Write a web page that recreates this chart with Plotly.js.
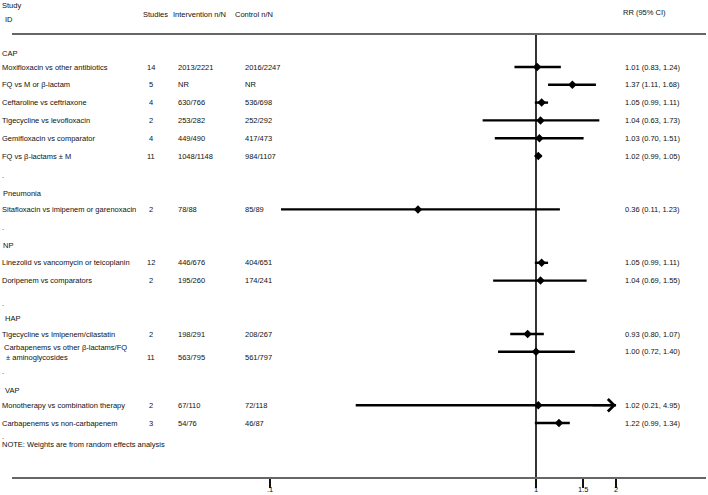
<!DOCTYPE html>
<html>
<head>
<meta charset="utf-8">
<script src="https://cdn.plot.ly/plotly-3.0.1.min.js"></script>
<style>html,body{margin:0;padding:0;background:#fff;}#chart{width:708px;height:495px;}</style>
</head>
<body>
<div id="chart"></div>
<script>
// ---- data ----
const studyLabels = [
  "Moxifloxacin vs other antibiotics",
  "FQ vs M or β-lactam",
  "Ceftaroline vs ceftriaxone",
  "Tigecycline vs levofloxacin",
  "Gemifloxacin vs comparator",
  "FQ vs β-lactams ± M",
  "Sitafloxacin vs imipenem or garenoxacin",
  "Linezolid vs vancomycin or teicoplanin",
  "Doripenem vs comparators",
  "Tigecycline vs Imipenem/cilastatin",
  "Carbapenems vs other β-lactams/FQ<br> ± aminoglycosides",
  "Monotherapy vs combination therapy",
  "Carbapenems vs non-carbapenem"
];
const studyCounts = [14, 5, 4, 2, 4, 11, 2, 12, 2, 2, 11, 2, 3];
const interventionNN = ["2013/2221","NR","630/766","253/282","449/490","1048/1148","78/88","446/676","195/260","198/291","563/795","67/110","54/76"];
const controlNN = ["2016/2247","NR","536/698","252/292","417/473","984/1107","85/89","404/651","174/241","208/267","561/797","72/118","46/87"];
const rrEst = [1.01, 1.37, 1.05, 1.04, 1.03, 1.02, 0.36, 1.05, 1.04, 0.93, 1.00, 1.02, 1.22];
const rrLow = [0.83, 1.11, 0.99, 0.63, 0.70, 0.99, 0.11, 0.99, 0.69, 0.80, 0.72, 0.21, 0.99];
const rrHigh = [1.24, 1.68, 1.11, 1.73, 1.51, 1.05, 1.23, 1.11, 1.55, 1.07, 1.40, 4.95, 1.34];
const groupNames = ["CAP", "Pneumonia", "NP", "HAP", "VAP"];
const tickValues = [0.1, 1, 1.5, 2];
const tickLabels = [".1", "1", "1.5", "2"];
const noteText = "NOTE: Weights are from random effects analysis";

// ---- layout (row slots) ----
const studyRows = [0, 1, 2, 3, 4, 5, 8, 11, 12, 15, 16, 19, 20];
const groupRows = [-0.75, 7.1, 10.0, 14.15, 18.15];
const dotRows = [6.1, 9.0, 13.3, 17.1, 20.75];
const noteRow = 21.2;

const ML = 12, MR = 2, MT = 35, MB = 18, W = 708, H = 495;
const PW = W - ML - MR, PH = H - MT - MB;
const px = p => (p - ML) / PW;            // pixel x -> paper x
const py = p => (H - MB - p) / PH;        // pixel y -> paper y
const yTop = -1.798, yBot = 23.034;
const FONT = "Liberation Sans, Arial, Helvetica, sans-serif";
const FS = 7.5;
const TXT = "#111";
const ciMax = tickValues[tickValues.length - 1];
const ciMin = tickValues[0];

const fmt = v => v.toFixed(2);
const annotations = [];
function txt(xp, y, text, anchor, yref) {
  annotations.push({
    xref: "paper", yref: yref || "y", x: px(xp), y: y, text: text,
    xanchor: anchor || "left", yanchor: "middle", align: "left", showarrow: false,
    font: {family: FONT, size: FS, color: TXT},
    borderpad: 0, borderwidth: 0
  });
}

// headers (above the plot area)
txt(2, py(5), "Study", "left", "paper");
txt(5, py(20), "ID", "left", "paper");
txt(143, py(15), "Studies", "left", "paper");
txt(173, py(15), "Intervention n/N", "left", "paper");
txt(235, py(15), "Control n/N", "left", "paper");
txt(623, py(13), "RR (95% CI)", "left", "paper");

groupNames.forEach((g, i) => txt(g === "CAP" ? 2 : (g === "Pneumonia" || g === "NP" ? 3 : 5), groupRows[i], g));
dotRows.forEach(r => txt(2, r, "."));
txt(2, noteRow, noteText);

studyLabels.forEach((lab, i) => {
  const r = studyRows[i];
  const twoLine = lab.indexOf("<br>") >= 0;
  const numY = twoLine ? r + 0.32 : r;
  txt(twoLine ? 4 : 2, twoLine ? r + 0.05 : r, lab);
  txt(151, numY, String(studyCounts[i]), "center");
  txt(178, numY, interventionNN[i]);
  txt(245, numY, controlNN[i]);
  txt(625, r, fmt(rrEst[i]) + " (" + fmt(rrLow[i]) + ", " + fmt(rrHigh[i]) + ")");
});

// x tick labels, placed just under the ticks through the x axis scale
tickValues.forEach((v, i) => {
  annotations.push({
    xref: "x", yref: "paper", x: Math.log10(v), y: py(489.5), text: tickLabels[i],
    xanchor: "center", yanchor: "middle", showarrow: false,
    font: {family: FONT, size: FS, color: TXT}, borderpad: 0, borderwidth: 0
  });
});

// CI lines (clipped to tick range), arrows for clipped ends
const ciX = [], ciY = [];
studyRows.forEach((r, i) => {
  const lo = Math.max(rrLow[i], ciMin), hi = Math.min(rrHigh[i], ciMax);
  ciX.push(lo, hi, null); ciY.push(r, r, null);
  if (rrHigh[i] > ciMax) {
    annotations.push({xref: "x", yref: "y", x: Math.log10(ciMax), y: r, ax: -25, ay: 0,
      showarrow: true, arrowhead: 4, arrowsize: 1.1, arrowwidth: 2.2, arrowcolor: "#000", text: ""});
  }
  if (rrLow[i] < ciMin) {
    annotations.push({xref: "x", yref: "y", x: Math.log10(ciMin), y: r, ax: 25, ay: 0,
      showarrow: true, arrowhead: 4, arrowsize: 1.1, arrowwidth: 2.2, arrowcolor: "#000", text: ""});
  }
});

const traces = [
  {type: "scatter", mode: "lines", x: [1, 1], y: [yTop, yBot], line: {color: "#000", width: 1.6},
   hoverinfo: "skip", showlegend: false, cliponaxis: false},
  {type: "scatter", mode: "lines", x: ciX, y: ciY, line: {color: "#000", width: 2.4},
   hoverinfo: "skip", showlegend: false, connectgaps: false},
  {type: "scatter", mode: "markers", x: rrEst, y: studyRows,
   marker: {symbol: "diamond", size: 6.5, color: "#000"}, showlegend: false}
];

const layout = {
  width: W, height: H,
  margin: {l: ML, r: MR, t: MT, b: MB, pad: 0},
  paper_bgcolor: "#fff", plot_bgcolor: "#fff",
  showlegend: false,
  xaxis: {
    type: "log",
    range: [(12 - 536) / 266, (706 - 536) / 266],
    tickvals: tickValues, ticktext: tickLabels, showticklabels: false,
    ticks: "outside", ticklen: 9, tickwidth: 1.5, tickcolor: "#111",
    showline: true, linecolor: "#666", linewidth: 2, mirror: true,
    showgrid: false, zeroline: false
  },
  yaxis: {
    range: [yBot, yTop], showgrid: false, zeroline: false,
    showticklabels: false, ticks: "", showline: false
  },
  annotations: annotations
};

Plotly.newPlot("chart", traces, layout, {staticPlot: true, displayModeBar: false});
</script>
</body>
</html>
